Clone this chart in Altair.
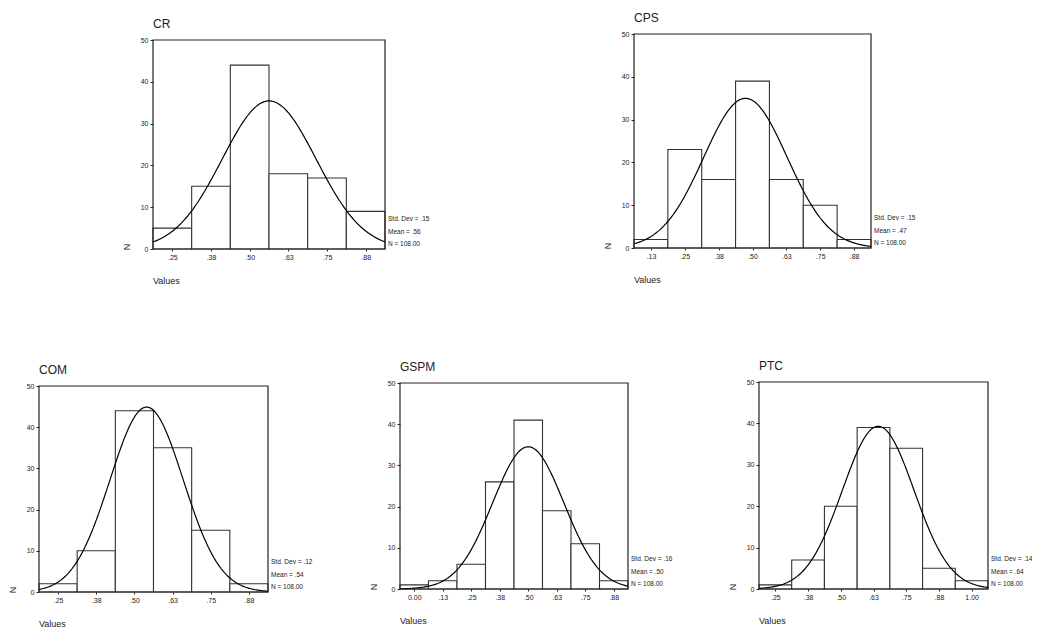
import altair as alt
import pandas as pd

# ---------------- data ----------------
BIN_WIDTH = 0.125
N_TOTAL = 108

cr_centers = [0.25, 0.375, 0.5, 0.625, 0.75, 0.875]
cr_counts = [5, 15, 44, 18, 17, 9]
cr_ticks = [".25", ".38", ".50", ".63", ".75", ".88"]

cps_centers = [0.125, 0.25, 0.375, 0.5, 0.625, 0.75, 0.875]
cps_counts = [2, 23, 16, 39, 16, 10, 2]
cps_ticks = [".13", ".25", ".38", ".50", ".63", ".75", ".88"]

com_centers = [0.25, 0.375, 0.5, 0.625, 0.75, 0.875]
com_counts = [2, 10, 44, 35, 15, 2]
com_ticks = [".25", ".38", ".50", ".63", ".75", ".88"]

gspm_centers = [0.0, 0.125, 0.25, 0.375, 0.5, 0.625, 0.75, 0.875]
gspm_counts = [1, 2, 6, 26, 41, 19, 11, 2]
gspm_ticks = ["0.00", ".13", ".25", ".38", ".50", ".63", ".75", ".88"]

ptc_centers = [0.25, 0.375, 0.5, 0.625, 0.75, 0.875, 1.0]
ptc_counts = [1, 7, 20, 39, 34, 5, 2]
ptc_ticks = [".25", ".38", ".50", ".63", ".75", ".88", "1.00"]

variables = ["CR", "CPS", "COM", "GSPM", "PTC"]
means = [0.563, 0.474, 0.54, 0.50, 0.643]
std_devs = [0.152, 0.154, 0.12, 0.156, 0.137]
mean_labels = [".56", ".47", ".54", ".50", ".64"]
std_labels = [".15", ".15", ".12", ".16", ".14"]
n_label = "108.00"
y_ticks = [0, 10, 20, 30, 40, 50]
Y_MAX = 50

# ---------------- layout (pixel ranges of each plot box) ----------------
W, H = 1024, 622
FONT = "Liberation Sans"
INK = "#222222"
panel_ranges = {
    "CR": ((145, 377), (241, 32)),
    "CPS": ((626, 863), (240, 26)),
    "COM": ((31, 260), (584, 378)),
    "GSPM": ((392, 620), (581, 375)),
    "PTC": ((751, 980), (581, 374)),
}
panel_data = {
    "CR": (cr_centers, cr_counts, cr_ticks),
    "CPS": (cps_centers, cps_counts, cps_ticks),
    "COM": (com_centers, com_counts, com_ticks),
    "GSPM": (gspm_centers, gspm_counts, gspm_ticks),
    "PTC": (ptc_centers, ptc_counts, ptc_ticks),
}


def label_expr(centers, ticks):
    expr = "''"
    for c, t in reversed(list(zip(centers, ticks))):
        expr = f"abs(datum.value - ({c})) < 1e-6 ? '{t}' : ({expr})"
    return expr


def panel_layers(i, name):
    centers, counts, ticks = panel_data[name]
    xr, yr = panel_ranges[name]
    lo = centers[0] - BIN_WIDTH / 2
    hi = centers[-1] + BIN_WIDTH / 2
    xs = alt.Scale(domain=[lo, hi], range=list(xr), nice=False, zero=False)
    ys = alt.Scale(domain=[0, Y_MAX], range=list(yr), nice=False, zero=False)

    df = pd.DataFrame({
        "start": [c - BIN_WIDTH / 2 for c in centers],
        "end": [c + BIN_WIDTH / 2 for c in centers],
        "count": counts,
        "base": [0] * len(counts),
    })

    x_axis = alt.Axis(
        orient="bottom", offset=yr[0] - H, values=centers,
        labelExpr=label_expr(centers, ticks), title=None, grid=False,
        domain=False, tickSize=2, tickColor=INK, labelFontSize=7,
        labelFont=FONT, labelColor=INK, labelPadding=2, labelFlush=False,
        labelOverlap=False,
    )
    y_axis = alt.Axis(
        orient="left", offset=-xr[0], values=y_ticks, title=None, grid=False,
        domain=False, tickSize=3, tickColor=INK, labelFontSize=7,
        labelFont=FONT, labelColor=INK, labelPadding=2, labelFlush=False,
        labelOverlap=False,
    )

    bars = alt.Chart(df).mark_rect(
        fill="white", stroke="#333333", strokeWidth=1.1
    ).encode(
        x=alt.X("start:Q", scale=xs, axis=x_axis),
        x2="end:Q",
        y=alt.Y("count:Q", scale=ys, axis=y_axis),
        y2="base:Q",
    )

    mean, sd = means[i], std_devs[i]
    step = (hi - lo) / 200
    curve = alt.Chart(alt.sequence(lo, hi + step / 2, step, as_="x")).transform_calculate(
        y=f"{N_TOTAL}*{BIN_WIDTH}*exp(-0.5*pow((datum.x-({mean}))/{sd},2))/({sd}*sqrt(2*PI))"
    ).mark_line(color="black", strokeWidth=1.2).encode(
        x=alt.X("x:Q", scale=xs, axis=None),
        y=alt.Y("y:Q", scale=ys, axis=None),
    )

    frame = alt.Chart(pd.DataFrame({"lo": [lo], "hi": [hi], "y0": [0], "y1": [Y_MAX]})).mark_rect(
        fillOpacity=0, stroke=INK, strokeWidth=1.2
    ).encode(
        x=alt.X("lo:Q", scale=xs, axis=None), x2="hi:Q",
        y=alt.Y("y0:Q", scale=ys, axis=None), y2="y1:Q",
    )

    def note(text, xv, yv, **kw):
        d = pd.DataFrame({"label": [text], "xv": [xv], "yv": [yv]})
        return alt.Chart(d).mark_text(font=FONT, color=INK, **kw).encode(
            x=alt.X("xv:Q", scale=xs, axis=None),
            y=alt.Y("yv:Q", scale=ys, axis=None),
            text="label:N",
        )

    texts = [
        note(name, lo, Y_MAX, align="left", baseline="middle", dy=-16, fontSize=12),
        # rotated text: dx/dy act in the rotated frame
        note("N", lo, 0, align="center", baseline="middle", dx=2, dy=-26, angle=270, fontSize=9),
        note("Values", lo, 0, align="left", baseline="middle", dy=32, fontSize=9),
        note(f"Std. Dev = {std_labels[i]}", hi, 0, align="left", baseline="middle", dx=3, dy=-30, fontSize=6.5),
        note(f"Mean = {mean_labels[i]}", hi, 0, align="left", baseline="middle", dx=3, dy=-17, fontSize=6.5),
        note(f"N = {n_label}", hi, 0, align="left", baseline="middle", dx=3, dy=-5, fontSize=6.5),
    ]
    return [bars, curve, frame] + texts


layers = []
for i, name in enumerate(variables):
    layers.extend(panel_layers(i, name))

chart = alt.layer(*layers).resolve_scale(
    x="independent", y="independent"
).resolve_axis(
    x="independent", y="independent"
).properties(
    width=W, height=H,
    autosize=alt.AutoSizeParams(type="none"),
    padding=0,
    background="white",
).configure_view(stroke=None)

chart.save("out.html", embed_options={"renderer": "svg", "actions": False})
